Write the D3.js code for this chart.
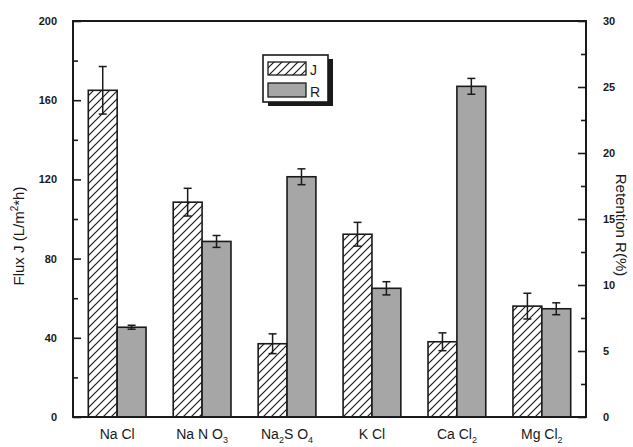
<!DOCTYPE html>
<html>
<head>
<meta charset="utf-8">
<script src="https://cdn.jsdelivr.net/npm/d3@7"></script>
<style>
  html, body { margin: 0; padding: 0; background: #fff; }
  svg { display: block; }
</style>
</head>
<body>
<svg id="chart" width="633" height="447"></svg>
<script>
// ---- data ----
const categories = ["NaCl", "NaNO3", "Na2SO4", "KCl", "CaCl2", "MgCl2"];
// label parts: [text, isSubscript]
const categoryLabels = [
  [["Na Cl", false]],
  [["Na N O", false], ["3", true]],
  [["Na", false], ["2", true], ["S O", false], ["4", true]],
  [["K Cl", false]],
  [["Ca Cl", false], ["2", true]],
  [["Mg Cl", false], ["2", true]]
];
const fluxJ = [165, 108.5, 37, 92.3, 38, 56];
const fluxJErr = [12, 7, 5, 6, 4.5, 6.5];
const retentionR = [6.8, 13.3, 18.2, 9.75, 25.05, 8.2];
const retentionRErr = [0.15, 0.45, 0.6, 0.5, 0.6, 0.45];
const leftTicks = [0, 40, 80, 120, 160, 200];
const leftMinor = [20, 60, 100, 140, 180];
const rightTicks = [0, 5, 10, 15, 20, 25, 30];
const rightMinor = [2.5, 7.5, 12.5, 17.5, 22.5, 27.5];
const seriesNames = ["J", "R"];

// ---- layout ----
const svg = d3.select("#chart");
const L = 73, R = 586, T = 21, B = 417;
const ink = "#1a1a1a";
const grey = "#a6a6a6";

const x = d3.scaleBand().domain(categories).range([L, R]).paddingInner(0.32).paddingOuter(0.18);
const xs = d3.scaleBand().domain(seriesNames).range([0, x.bandwidth()]);
const yL = d3.scaleLinear().domain([0, 200]).range([B, T]);
const yR = d3.scaleLinear().domain([0, 30]).range([B, T]);

// hatch pattern
const defs = svg.append("defs");
const pat = defs.append("pattern").attr("id", "hatch")
  .attr("patternUnits", "userSpaceOnUse").attr("width", 8).attr("height", 8);
pat.append("rect").attr("width", 8).attr("height", 8).attr("fill", "#fff");
pat.append("path").attr("d", "M-2,2 L2,-2 M0,8 L8,0 M6,10 L10,6")
  .attr("stroke", ink).attr("stroke-width", 1.2);

// bars J
const gJ = svg.append("g");
categories.forEach((c, i) => {
  const bx = x(c) + xs("J");
  gJ.append("rect").attr("x", bx).attr("y", yL(fluxJ[i]))
    .attr("width", xs.bandwidth()).attr("height", yL(0) - yL(fluxJ[i]))
    .attr("fill", "url(#hatch)").attr("stroke", ink).attr("stroke-width", 1.6);
});
// bars R
categories.forEach((c, i) => {
  const bx = x(c) + xs("R");
  gJ.append("rect").attr("x", bx).attr("y", yR(retentionR[i]))
    .attr("width", xs.bandwidth()).attr("height", yR(0) - yR(retentionR[i]))
    .attr("fill", grey).attr("stroke", ink).attr("stroke-width", 1.6);
});

// error bars
function errBar(cx, yTop, yBot) {
  const g = svg.append("g").attr("stroke", ink).attr("stroke-width", 1.5);
  g.append("line").attr("x1", cx).attr("x2", cx).attr("y1", yTop).attr("y2", yBot);
  g.append("line").attr("x1", cx - 4).attr("x2", cx + 4).attr("y1", yTop).attr("y2", yTop);
  g.append("line").attr("x1", cx - 4).attr("x2", cx + 4).attr("y1", yBot).attr("y2", yBot);
}
categories.forEach((c, i) => {
  const cxJ = x(c) + xs("J") + xs.bandwidth() / 2;
  errBar(cxJ, yL(fluxJ[i] + fluxJErr[i]), yL(fluxJ[i] - fluxJErr[i]));
  const cxR = x(c) + xs("R") + xs.bandwidth() / 2;
  errBar(cxR, yR(retentionR[i] + retentionRErr[i]), yR(retentionR[i] - retentionRErr[i]));
});

// frame
svg.append("rect").attr("x", L).attr("y", T).attr("width", R - L).attr("height", B - T)
  .attr("fill", "none").attr("stroke", ink).attr("stroke-width", 2);

// left axis (ticks inward)
const tickFont = "'Liberation Sans', Arial, sans-serif";
const axL = d3.axisLeft(yL).tickValues(leftTicks).tickSize(-8).tickPadding(16).tickFormat(d3.format("d"));
svg.append("g").attr("transform", `translate(${L},0)`).call(axL);
const axLm = d3.axisLeft(yL).tickValues(leftMinor).tickSize(-5).tickFormat("");
svg.append("g").attr("transform", `translate(${L},0)`).call(axLm);
// right axis
const axR = d3.axisRight(yR).tickValues(rightTicks).tickSize(-8).tickPadding(17).tickFormat(d3.format("d"));
svg.append("g").attr("transform", `translate(${R},0)`).call(axR);
const axRm = d3.axisRight(yR).tickValues(rightMinor).tickSize(-5).tickFormat("");
svg.append("g").attr("transform", `translate(${R},0)`).call(axRm);

svg.selectAll(".domain").remove();
svg.selectAll(".tick line").attr("stroke", ink).attr("stroke-width", 1.6);
svg.selectAll(".tick text").attr("font-family", tickFont).attr("font-size", 11)
  .attr("font-weight", "bold").attr("fill", ink);

// x labels
categories.forEach((c, i) => {
  const cx = x(c) + x.bandwidth() / 2;
  const t = svg.append("text").attr("x", cx).attr("y", 439).attr("text-anchor", "middle")
    .attr("font-family", tickFont).attr("font-size", 14).attr("fill", ink);
  categoryLabels[i].forEach(([s, sub]) => {
    const ts = t.append("tspan").text(s);
    if (sub) ts.attr("font-size", 9).attr("dy", 4);
    else ts.attr("dy", t.selectAll("tspan").size() > 1 ? -4 : 0);
  });
});

// axis titles
const lt = svg.append("text").attr("transform", "translate(24,236) rotate(-90)")
  .attr("text-anchor", "middle").attr("font-family", tickFont).attr("font-size", 15).attr("fill", ink);
lt.append("tspan").text("Flux J (L/m");
lt.append("tspan").text("2").attr("font-size", 10).attr("dy", -6);
lt.append("tspan").text("*h)").attr("dy", 6);

svg.append("text").attr("transform", "translate(616,225) rotate(90)")
  .attr("text-anchor", "middle").attr("font-family", tickFont).attr("font-size", 15).attr("fill", ink)
  .text("Retention R(%)");

// legend
const lg = svg.append("g");
lg.append("rect").attr("x", 268).attr("y", 59).attr("width", 65).attr("height", 47).attr("fill", ink);
lg.append("rect").attr("x", 263).attr("y", 55).attr("width", 65).attr("height", 47)
  .attr("fill", "#fff").attr("stroke", ink).attr("stroke-width", 1.6);
lg.append("rect").attr("x", 268).attr("y", 62).attr("width", 38).attr("height", 13)
  .attr("fill", "url(#hatch)").attr("stroke", ink).attr("stroke-width", 1.3);
lg.append("rect").attr("x", 268).attr("y", 83).attr("width", 38).attr("height", 14)
  .attr("fill", grey).attr("stroke", ink).attr("stroke-width", 1.3);
lg.append("text").attr("x", 310).attr("y", 75).attr("font-family", tickFont).attr("font-size", 14)
  .attr("fill", ink).text(seriesNames[0]);
lg.append("text").attr("x", 310).attr("y", 97).attr("font-family", tickFont).attr("font-size", 14)
  .attr("fill", ink).text(seriesNames[1]);
</script>
</body>
</html>
